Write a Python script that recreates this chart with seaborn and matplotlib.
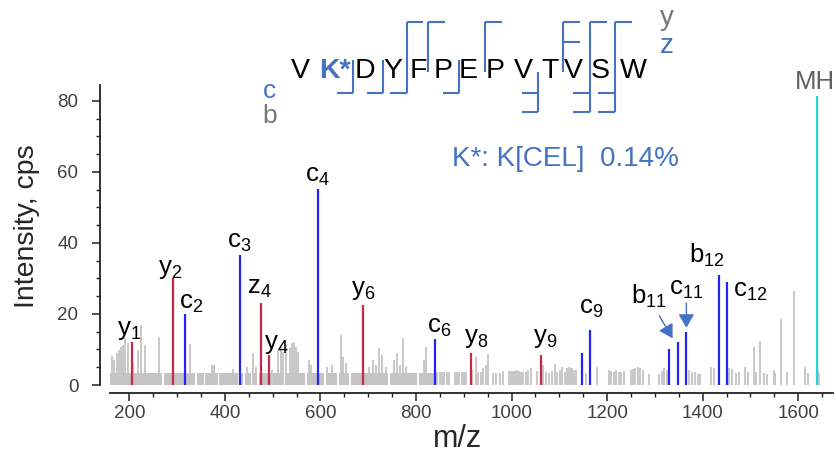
import numpy as np
import matplotlib
matplotlib.use("Agg")
import matplotlib.pyplot as plt
from matplotlib.lines import Line2D
from matplotlib.ticker import MultipleLocator
from matplotlib.transforms import offset_copy
import seaborn as sns

# ---------------------------------------------------------------- data
# Assigned fragment ions of VK*DYFPEPVTVSW (K* = K[CEL])
ion_labels = ["y1", "y2", "c2", "c3", "z4", "y4", "c4", "y6", "c6", "y8", "y9",
              "", "c9", "", "b11", "c11", "b12", "c12", "MH"]
ion_mz = [205.1, 292.1, 317.2, 432.2, 476.2, 492.2, 595.3, 688.4, 839.4, 914.5,
          1061.5, 1147.6, 1164.6, 1329.7, 1347.7, 1364.7, 1434.7, 1451.7, 1638.8]
ion_intensity = [12.0, 30.0, 20.0, 36.6, 23.2, 8.5, 55.2, 22.6, 13.0, 9.0,
                 8.5, 8.9, 15.5, 10.0, 12.0, 15.0, 31.0, 29.0, 81.4]
ion_series = ["C", "C", "N", "N", "C", "C", "N", "C", "N", "C",
              "C", "N", "N", "N", "N", "N", "N", "N", "P"]

# Unassigned peaks
noise_mz = [158.2, 163.0, 168.6, 174.3, 179.1, 182.6, 187.5, 191.6, 196.4, 208.4,
            217.4, 224.5, 232.8, 261.3, 327.5, 372.1, 377.7, 416.0, 446.1, 459.3,
            465.5, 499.6, 512.2, 517.2, 522.0, 527.6, 536.0, 540.2, 545.0, 549.8,
            554.0, 576.3, 579.9, 614.6, 625.0, 642.6, 647.4, 654.3, 701.8, 710.1,
            715.8, 722.7, 729.6, 738.0, 754.0, 761.0, 766.0, 773.5, 779.8, 816.8,
            821.6,
            844.6, 849.6, 854.4, 859.2, 864.2, 869.1, 880.9, 885.8, 890.6, 895.6,
            900.4, 905.2, 917.8, 924.9, 929.7, 935.3, 940.1, 945.8, 950.6, 961.1,
            968.0, 975.1, 982.0, 994.5, 998.1, 1001.4, 1005.0, 1008.5, 1011.9, 1015.4,
            1020.2, 1024.4, 1029.4, 1034.2, 1039.9, 1053.7, 1065.6, 1071.2, 1078.1, 1085.0,
            1090.1, 1095.5, 1101.2, 1106.0, 1111.0, 1116.4, 1120.0, 1123.5, 1126.9, 1130.4,
            1133.9, 1154.9, 1179.1, 1203.6, 1208.4, 1214.0, 1218.9, 1224.5, 1229.3, 1235.0,
            1249.0, 1253.8, 1259.4, 1264.2, 1269.9, 1274.7, 1288.7, 1309.6, 1315.0, 1320.1,
            1325.5, 1372.3, 1377.8, 1384.9, 1390.3, 1395.3, 1417.5, 1423.1, 1455.9, 1461.4,
            1469.7, 1475.4, 1489.4, 1494.2, 1506.7, 1511.6, 1520.8, 1529.1, 1534.6, 1548.6,
            1552.1, 1563.8, 1576.4, 1590.4, 1614.8, 1619.6, 1641.0, 1642.7]
noise_intensity = [7.5, 8.3, 7.0, 8.9, 9.9, 10.8, 11.3, 13.3, 11.7, 6.1,
                   9.9, 16.9, 11.3, 13.4, 11.5, 5.6, 5.6, 4.6, 5.2, 9.1,
                   5.0, 4.2, 9.9, 10.8, 9.4, 11.3, 10.3, 11.7, 12.2, 10.8,
                   9.4, 7.0, 5.6, 5.2, 5.6, 14.1, 8.0, 6.1, 5.2, 7.0,
                   5.6, 10.3, 8.5, 5.2, 7.0, 8.9, 5.6, 13.1, 5.2, 7.0,
                   10.8,
                   3.6, 3.6, 3.6, 3.6, 3.6, 3.6, 3.6, 3.6, 3.6, 3.6,
                   3.6, 3.6, 4.2, 8.0, 3.6, 3.6, 4.8, 5.6, 8.7, 3.4,
                   3.4, 3.4, 3.9, 3.9, 4.0, 4.0, 3.9, 4.0, 4.1, 3.9,
                   3.6, 3.6, 3.6, 4.2, 4.8, 3.9, 5.6, 3.6, 3.4, 3.9,
                   5.9, 3.6, 4.2, 5.2, 3.6, 4.8, 5.2, 4.8, 4.8, 4.2,
                   4.2, 3.4, 5.0, 4.2, 3.9, 3.6, 4.2, 3.7, 3.6, 3.9,
                   4.2, 4.5, 4.8, 5.0, 4.8, 4.2, 3.1, 3.1, 3.9, 4.8,
                   4.2, 4.2, 3.6, 3.6, 3.1, 3.1, 5.0, 4.8, 4.8, 4.5,
                   3.4, 3.6, 5.0, 3.6, 10.8, 3.6, 12.4, 3.4, 3.1, 4.2,
                   3.3, 18.5, 3.7, 26.5, 5.2, 3.3, 4.2, 3.4]

# Dense low-level baseline (unresolved noise), m/z ranges and level
floor_start = [156.1, 271.7, 341.5, 358.3, 387.5, 432.1, 441.9, 458.6, 471.8, 500.4,
               526.2, 571.5, 597.3, 611.3, 624.4, 639.1, 663.5, 745.7, 805.7]
floor_end = [267.5, 337.4, 355.3, 384.6, 427.9, 439.0, 454.4, 468.2, 496.3, 522.6,
             567.4, 593.7, 607.7, 621.7, 635.5, 660.0, 741.5, 801.5, 841.3]
floor_level = 3.5

# Peptide sequence and observed cleavages (index = residues on the N-terminal side)
residues = ["V", "K*", "D", "Y", "F", "P", "E", "P", "V", "T", "V", "S", "W"]
nterm_cleavages = {2: 1, 3: 1, 4: 1, 6: 1, 9: 2, 11: 2, 12: 2}    # c (and b) ions
cterm_cleavages = {4: 1, 5: 1, 7: 1, 10: 2, 11: 1, 12: 1}          # y (and z) ions

x_ticks = [200, 400, 600, 800, 1000, 1200, 1400, 1600]
y_ticks = [0, 20, 40, 60, 80]

# ---------------------------------------------------------------- style
sns.set_theme(style="ticks")
plt.rcParams["font.family"] = ["Liberation Sans", "DejaVu Sans"]
plt.rcParams["mathtext.fontset"] = "custom"
plt.rcParams["mathtext.rm"] = "Liberation Sans"
plt.rcParams["mathtext.it"] = "Liberation Sans"
plt.rcParams["mathtext.bf"] = "Liberation Sans:bold"

RED, BLUE, CYAN = "#c8294b", "#2424ee", "#22d2dc"
GREY = "#c4c4c4"
ACCENT = "#4472c4"
series_color = {"C": RED, "N": BLUE, "P": CYAN}

W, H = 836, 455
PT = 0.72  # points per pixel at 100 dpi
fig = plt.figure(figsize=(W / 100, H / 100), dpi=100)
fig.patch.set_facecolor("white")


def fxy(px, py):
    return px / W, 1 - py / H


ax = fig.add_axes([110 / W, 1 - 385 / H, 723 / W, 300 / H])
ax.set_facecolor("white")

# ---------------------------------------------------------------- spectrum
ax.bar(floor_start, floor_level, width=np.subtract(floor_end, floor_start),
       align="edge", color=GREY, linewidth=0, zorder=1)
ax.vlines(noise_mz, 0, noise_intensity, color=GREY, lw=1.3, zorder=1)

for s, c in series_color.items():
    xs = [m for m, t in zip(ion_mz, ion_series) if t == s]
    ys = [v for v, t in zip(ion_intensity, ion_series) if t == s]
    ax.vlines(xs, 0, ys, color=c, lw=1.6, zorder=3)

ax.set_xlim(159.6, 1672.8)
ax.set_ylim(0, 84.5)
ax.set_xticks(x_ticks)
ax.set_yticks(y_ticks)
ax.xaxis.set_minor_locator(MultipleLocator(50))
ax.yaxis.set_minor_locator(MultipleLocator(5))
ax.tick_params(which="major", length=5.5, width=1.1, color="#222222",
               labelsize=13.5, labelcolor="#404040")
ax.tick_params(which="minor", length=3, width=1.0, color="#222222")
ax.tick_params(axis="y", which="major", pad=10)
ax.tick_params(axis="x", which="major", pad=3)

for side in ("top", "right"):
    ax.spines[side].set_visible(False)
ax.spines["left"].set_position(("outward", 10 * PT))
ax.spines["bottom"].set_position(("outward", 8 * PT))
for side in ("left", "bottom"):
    ax.spines[side].set_linewidth(1.3)
    ax.spines[side].set_color("#222222")

ax.set_xlabel("m/z", fontsize=22, va="baseline")
ax.xaxis.set_label_coords((458 - 110) / 723, (385 - 447) / 300)
ax.set_ylabel("Intensity, cps", fontsize=20.5, va="center", ha="center")
ax.yaxis.set_label_coords((27 - 110) / 723, (385 - 226) / 300)

# ---------------------------------------------------------------- ion labels
label_offset = {  # (dx, dy) in pixels from the peak top, text baseline
    "y1": (-3, 7.7), "y2": (-3, 4.5), "c2": (5.5, 5), "c3": (-1.5, 7),
    "z4": (-2, 9), "y4": (7, 5.5), "c4": (-1, 7), "y6": (0.5, 10),
    "c6": (4.5, 6), "y8": (5.5, 10), "y9": (4, 12), "c9": (1, 16.5),
    "b11": (-29, 39), "c11": (0.6, 36.5), "b12": (-12.5, 12),
    "c12": (23, -14.7), "MH": (-1.7, 7),
}


def ion_text(lbl):
    if lbl == "MH":
        return lbl
    return r"$\mathregular{%s_{%s}}$" % (lbl[0], lbl[1:])


for lbl, m, v in zip(ion_labels, ion_mz, ion_intensity):
    if not lbl:
        continue
    dx, dy = label_offset[lbl]
    ax.annotate(ion_text(lbl), xy=(m, v), xytext=(dx * PT, dy * PT),
                textcoords="offset points", ha="center", va="baseline",
                fontsize=18.5, color="#606060" if lbl == "MH" else "black",
                zorder=5, annotation_clip=False)

# arrows pointing at b11 and c11
arrow_spec = {"b11": ((-5, 4), (-13.4, 22.6)), "c11": ((0.6, 4), (0, 24.7))}
for lbl, (tip, tail) in arrow_spec.items():
    i = ion_labels.index(lbl)
    tr = offset_copy(ax.transData, fig=fig, x=tip[0] * PT, y=tip[1] * PT,
                     units="points")
    ax.annotate("", xy=(ion_mz[i], ion_intensity[i]), xycoords=tr,
                xytext=(tail[0] * PT, tail[1] * PT), textcoords="offset points",
                arrowprops=dict(arrowstyle="-|>,head_length=0.55,head_width=0.32",
                                mutation_scale=15, lw=1.0, color=ACCENT,
                                shrinkA=0, shrinkB=0), zorder=5)

# ---------------------------------------------------------------- sequence map
res_x = [300, 335, 365, 393.3, 418.3, 443.3, 468.3, 495, 523.3, 550, 573.3, 600, 633.3]
cut_x = {2: 353.3, 3: 383.3, 4: 406.7, 5: 428.3, 6: 459.3, 7: 485,
         9: 538.3, 10: 563.3, 11: 590, 12: 615}
SEQ_BASE = 78.3
for r, x in zip(residues, res_x):
    is_mod = r.endswith("*")
    fig.text(*fxy(x, SEQ_BASE), r, ha="center", va="baseline", fontsize=20.5,
             color=ACCENT if is_mod else "black",
             fontweight="bold" if is_mod else "normal")

TOP1, TOP2, TOP_END = 21.7, 41.7, 71.7
BOT1, BOT2, BOT_START = 92.7, 111.7, 60
ARM = 16.7


def seg(x0, y0, x1, y1):
    (a, b), (c, d) = fxy(x0, y0), fxy(x1, y1)
    fig.add_artist(Line2D([a, c], [b, d], color=ACCENT, lw=1.5,
                          solid_capstyle="butt"))


for site, x in cut_x.items():
    n_top = cterm_cleavages.get(site, 0)
    n_bot = nterm_cleavages.get(site, 0)
    y_top = TOP1 if n_top else (BOT_START if n_bot == 1 else TOP_END)
    y_bot = (BOT1 if n_bot == 1 else BOT2) if n_bot else TOP_END
    seg(x, y_top, x, y_bot)
    for k in range(n_top):
        yy = (TOP1, TOP2)[k]
        seg(x, yy, x + ARM, yy)
    for k in range(n_bot):
        yy = (BOT1, BOT2)[k]
        seg(x - ARM, yy, x, yy)

fig.text(*fxy(666.7, 25), "y", ha="center", va="baseline", fontsize=20, color="#777777")
fig.text(*fxy(666.7, 53.3), "z", ha="center", va="baseline", fontsize=20, color=ACCENT)
fig.text(*fxy(270, 98.5), "c", ha="center", va="baseline", fontsize=19, color=ACCENT)
fig.text(*fxy(270, 123.5), "b", ha="center", va="baseline", fontsize=19, color="#777777")

fig.text(*fxy(452, 166), "K*: K[CEL]  0.14%", ha="left", va="baseline",
         fontsize=20, color=ACCENT)

fig.savefig("out.png", dpi=100, facecolor="white")
